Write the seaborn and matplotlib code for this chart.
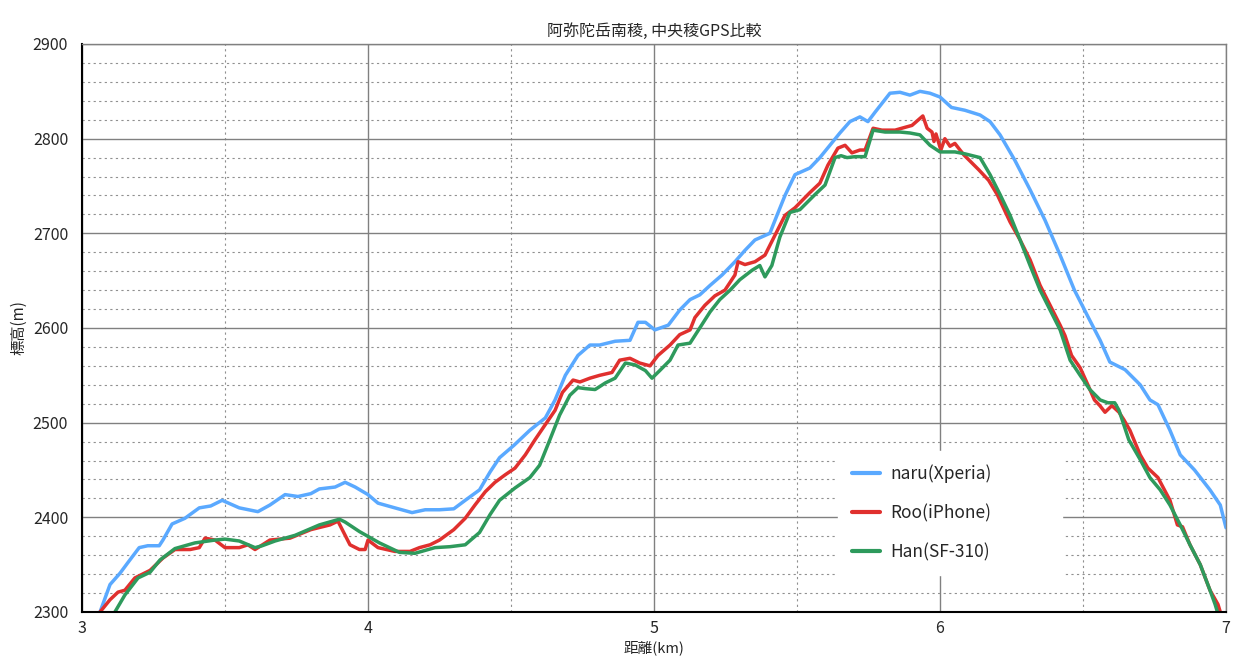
import numpy as np
import pandas as pd
import seaborn as sns
from matplotlib import pyplot as plt
from matplotlib.ticker import MultipleLocator

# naru(Xperia)
naru_km = [3.063, 3.098, 3.133, 3.16, 3.20, 3.23, 3.27, 3.283, 3.315, 3.36, 3.41, 3.45, 3.49,
           3.55, 3.615, 3.657, 3.71, 3.755, 3.80, 3.83, 3.885, 3.92, 3.955, 4.0, 4.035, 4.094,
           4.154, 4.2, 4.25, 4.30, 4.34, 4.39, 4.427, 4.46, 4.51, 4.566, 4.62, 4.654, 4.69,
           4.734, 4.776, 4.81, 4.864, 4.916, 4.944, 4.97, 5.003, 5.05, 5.09, 5.126, 5.16,
           5.196, 5.238, 5.283, 5.318, 5.353, 5.405, 5.43, 5.458, 5.493, 5.545, 5.58, 5.615,
           5.65, 5.685, 5.72, 5.748, 5.773, 5.825, 5.86, 5.895, 5.93, 5.965, 6.0, 6.04, 6.087,
           6.14, 6.175, 6.21, 6.262, 6.315, 6.367, 6.42, 6.47, 6.524, 6.56, 6.594, 6.647, 6.70,
           6.734, 6.762, 6.804, 6.84, 6.89, 6.944, 6.98, 7.0]
naru_m = [2300, 2329, 2341, 2352, 2368, 2370, 2370, 2376, 2393, 2399, 2410, 2412, 2418,
          2410, 2406, 2413, 2424, 2422, 2425, 2430, 2432, 2437, 2432, 2424, 2415, 2410,
          2405, 2408, 2408, 2409, 2418, 2429, 2448, 2463, 2476, 2492, 2505, 2524, 2550,
          2571, 2582, 2582, 2586, 2587, 2606, 2606, 2598, 2603, 2619, 2630, 2635,
          2645, 2656, 2670, 2682, 2693, 2700, 2719, 2740, 2762, 2769, 2780, 2793,
          2806, 2818, 2823, 2818, 2828, 2848, 2849, 2846, 2850, 2848, 2844, 2833, 2830,
          2825, 2818, 2804, 2777, 2746, 2714, 2677, 2640, 2608, 2587, 2564, 2556, 2540,
          2524, 2519, 2492, 2466, 2450, 2429, 2413, 2389]

# Roo(iPhone)
roo_km = [3.063, 3.098, 3.126, 3.15, 3.185, 3.238, 3.283, 3.325, 3.378, 3.41, 3.43, 3.465,
          3.50, 3.55, 3.58, 3.605, 3.657, 3.727, 3.80, 3.867, 3.895, 3.91, 3.937, 3.97, 3.99,
          4.0, 4.035, 4.094, 4.147, 4.18, 4.217, 4.25, 4.30, 4.34, 4.374, 4.41, 4.444, 4.48,
          4.514, 4.55, 4.584, 4.62, 4.654, 4.68, 4.717, 4.741, 4.776, 4.81, 4.853, 4.88,
          4.916, 4.95, 4.986, 5.014, 5.056, 5.09, 5.126, 5.143, 5.178, 5.213, 5.248, 5.283,
          5.294, 5.318, 5.353, 5.388, 5.423, 5.458, 5.493, 5.545, 5.58, 5.608, 5.643, 5.668,
          5.692, 5.72, 5.738, 5.766, 5.797, 5.843, 5.878, 5.902, 5.94, 5.955, 5.972, 5.979,
          5.986, 6.003, 6.017, 6.035, 6.052, 6.083, 6.136, 6.17, 6.2, 6.245, 6.28, 6.315,
          6.35, 6.385, 6.42, 6.437, 6.46, 6.49, 6.517, 6.54, 6.559, 6.577, 6.601, 6.626,
          6.643, 6.664, 6.7, 6.727, 6.762, 6.804, 6.83, 6.848, 6.874, 6.91, 6.944, 6.972, 6.98]
roo_m = [2300, 2313, 2321, 2323, 2336, 2344, 2357, 2366, 2366, 2368, 2378, 2376,
         2368, 2368, 2371, 2366, 2376, 2378, 2387, 2392, 2396, 2387, 2371, 2366, 2366,
         2376, 2368, 2364, 2364, 2368, 2371, 2376, 2387, 2399, 2413, 2427, 2437, 2445,
         2452, 2466, 2482, 2498, 2513, 2532, 2545, 2543, 2547, 2550, 2553, 2566,
         2568, 2563, 2560, 2571, 2582, 2593, 2598, 2611, 2624, 2634, 2640, 2656,
         2670, 2667, 2670, 2677, 2698, 2719, 2727, 2743, 2753, 2772, 2790, 2793,
         2785, 2788, 2788, 2811, 2809, 2809, 2812, 2814, 2824, 2811, 2807, 2797,
         2805, 2788, 2800, 2792, 2795, 2783, 2767, 2756, 2741, 2712, 2693, 2672,
         2645, 2624, 2603, 2592, 2571, 2558, 2540, 2524, 2518, 2511, 2518, 2511,
         2503, 2492, 2466, 2452, 2442, 2418, 2392, 2390, 2371, 2350, 2323, 2308, 2300]

# Han(SF-310)
han_km = [3.115, 3.15, 3.196, 3.238, 3.273, 3.325, 3.395, 3.465, 3.50, 3.55, 3.605, 3.63,
          3.675, 3.745, 3.83, 3.9, 3.92, 3.97, 4.04, 4.11, 4.164, 4.234, 4.287, 4.34, 4.39,
          4.427, 4.46, 4.514, 4.566, 4.6, 4.636, 4.67, 4.706, 4.734, 4.759, 4.794, 4.83,
          4.864, 4.9, 4.934, 4.97, 4.993, 5.02, 5.056, 5.084, 5.126, 5.16, 5.196, 5.23,
          5.266, 5.3, 5.343, 5.37, 5.388, 5.412, 5.44, 5.475, 5.51, 5.563, 5.598, 5.633,
          5.654, 5.675, 5.703, 5.738, 5.766, 5.808, 5.86, 5.895, 5.93, 5.965, 6.0, 6.052,
          6.087, 6.14, 6.175, 6.21, 6.245, 6.28, 6.315, 6.35, 6.385, 6.42, 6.455, 6.49,
          6.524, 6.56, 6.587, 6.611, 6.626, 6.66, 6.7, 6.734, 6.77, 6.804, 6.84, 6.874,
          6.91, 6.944, 6.962, 6.97]
han_m = [2300, 2318, 2336, 2342, 2355, 2367, 2373, 2376, 2377, 2375, 2368, 2370,
         2375, 2381, 2392, 2398, 2395, 2385, 2373, 2363, 2362, 2368, 2369, 2371, 2384,
         2403, 2418, 2431, 2442, 2455, 2482, 2508, 2529, 2537, 2536, 2535, 2542,
         2547, 2563, 2561, 2555, 2547, 2555, 2566, 2582, 2584, 2600, 2617, 2630,
         2640, 2651, 2661, 2666, 2654, 2666, 2696, 2722, 2725, 2741, 2751, 2780,
         2782, 2780, 2781, 2781, 2809, 2807, 2807, 2806, 2804, 2793, 2786, 2786,
         2784, 2780, 2762, 2741, 2719, 2693, 2666, 2640, 2619, 2598, 2566, 2550,
         2535, 2524, 2521, 2521, 2513, 2482, 2461, 2442, 2429, 2413, 2392, 2371,
         2350, 2323, 2308, 2300]

labels = ['naru(Xperia)', 'Roo(iPhone)', 'Han(SF-310)']
colors = ['#5aa9ff', '#e0302e', '#2e9a5c']

df = pd.concat([
    pd.DataFrame({'km': naru_km, 'm': naru_m, 'who': labels[0]}),
    pd.DataFrame({'km': roo_km, 'm': roo_m, 'who': labels[1]}),
    pd.DataFrame({'km': han_km, 'm': han_m, 'who': labels[2]}),
])

sns.set_style('white')
plt.rcParams['font.family'] = ['Noto Sans CJK JP', 'DejaVu Sans']

fig = plt.figure(figsize=(12.34, 6.63), dpi=100)
ax = fig.add_axes([82 / 1234, 1 - 612 / 663, 1144 / 1234, 568 / 663])

sns.lineplot(data=df, x='km', y='m', hue='who', palette=colors, sort=False,
             estimator=None, linewidth=2.5, ax=ax)

ax.set_xlim(3, 7)
ax.set_ylim(2300, 2900)
ax.xaxis.set_major_locator(MultipleLocator(1))
ax.xaxis.set_minor_locator(MultipleLocator(0.5))
ax.yaxis.set_major_locator(MultipleLocator(100))
ax.yaxis.set_minor_locator(MultipleLocator(20))
ax.grid(which='major', color='#808080', linewidth=1.0, linestyle='-')
ax.grid(which='minor', color='#909090', linewidth=0.8, linestyle=(0, (2, 3)))
ax.set_axisbelow(True)
ax.tick_params(which='both', length=0, labelsize=11.5)
ax.tick_params(axis='x', pad=6)
ax.tick_params(axis='y', pad=10)

for s in ['top', 'right']:
    ax.spines[s].set_color('#808080')
    ax.spines[s].set_linewidth(1.0)
for s in ['left', 'bottom']:
    ax.spines[s].set_color('black')
    ax.spines[s].set_linewidth(1.5)

ax.set_title('阿弥陀岳南稜, 中央稜GPS比較', fontsize=11.5, pad=6)
ax.set_xlabel('距離(km)', fontsize=10.5)
ax.xaxis.set_label_coords(0.5, -0.05)
ax.set_ylabel('標高(m)', fontsize=11, labelpad=4)

leg = ax.legend(loc='lower left', bbox_to_anchor=(0.661, 0.065, 0.196, 0.21),
                mode='expand', frameon=True, fontsize=12.5, handlelength=1.6,
                handletextpad=0.6, labelspacing=1.2, borderpad=0.8, borderaxespad=0)
leg.get_frame().set_edgecolor('white')
leg.get_frame().set_facecolor('white')
leg.get_frame().set_alpha(1)
leg.get_frame().set_boxstyle('square', pad=0)
for line in leg.get_lines():
    line.set_linewidth(3)

fig.savefig('out.png', dpi=100)
